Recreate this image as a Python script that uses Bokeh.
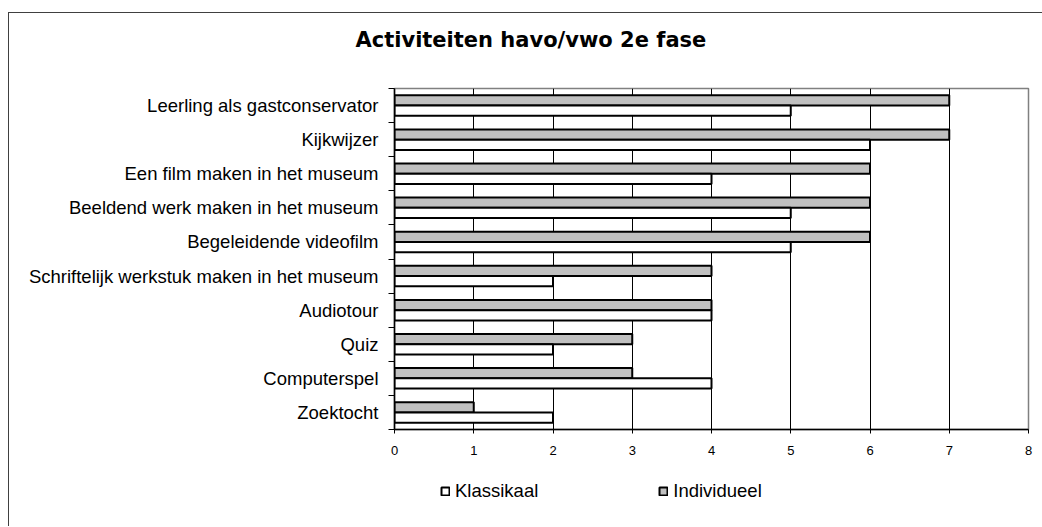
from bokeh.plotting import figure
from bokeh.layouts import column
from bokeh.models import (Range1d, FixedTicker, Legend, LegendItem,
                          ColumnDataSource)
from bokeh.embed import file_html
from bokeh.resources import INLINE

# ---- data (bottom to top) ----
categories = [
    "Zoektocht",
    "Computerspel",
    "Quiz",
    "Audiotour",
    "Schriftelijk werkstuk maken in het museum",
    "Begeleidende videofilm",
    "Beeldend werk maken in het museum",
    "Een film maken in het museum",
    "Kijkwijzer",
    "Leerling als gastconservator",
]
klassikaal = [2, 4, 2, 4, 2, 5, 5, 4, 6, 5]
individueel = [1, 3, 3, 4, 4, 6, 6, 6, 7, 7]
x_ticks = [0, 1, 2, 3, 4, 5, 6, 7, 8]
series_names = ["Klassikaal", "Individueel"]
title_text = "Activiteiten havo/vwo 2e fase"

n = len(categories)
centers = [i + 0.5 for i in range(n)]
bounds = [float(i) for i in range(n + 1)]

src_k = ColumnDataSource(dict(y=[c - 0.15 for c in centers], right=klassikaal))
src_i = ColumnDataSource(dict(y=[c + 0.15 for c in centers], right=individueel))

K_STYLE = dict(fill_color="white", line_color="black", line_width=2)
I_STYLE = dict(fill_color="#c0c0c0", line_color="black", line_width=2)

W = 1033
BORDERS = dict(min_border_left=385, min_border_right=14)


def strip(height):
    f = figure(width=W, height=height, output_backend="svg",
               toolbar_location=None, x_range=Range1d(0, 1),
               y_range=Range1d(0, 1), min_border_top=0, min_border_bottom=0,
               **BORDERS)
    f.axis.visible = False
    f.grid.visible = False
    f.outline_line_color = None
    return f


# ---- title strip ----
pt = strip(62)
pt.title.text = title_text
pt.title.align = "left"
pt.title.offset = -39
pt.title.standoff = 24
pt.title.text_font = "DejaVu Sans"
pt.title.text_font_style = "bold"
pt.title.text_font_size = "21px"
pt.title.text_color = "black"

# ---- main chart ----
p = figure(width=W, height=387, output_backend="svg", toolbar_location=None,
           title=None, x_range=Range1d(0, 8), y_range=Range1d(0, n),
           min_border_top=13, min_border_bottom=33, **BORDERS)

p.outline_line_color = "#808080"
p.outline_line_width = 1.5

p.hbar(y="y", right="right", left=0, height=0.3, source=src_i, **I_STYLE)
p.hbar(y="y", right="right", left=0, height=0.3, source=src_k, **K_STYLE)

# x axis
p.xaxis.ticker = FixedTicker(ticks=x_ticks)
p.xaxis.axis_line_color = "black"
p.xaxis.axis_line_width = 1.5
p.xaxis.major_tick_out = 4
p.xaxis.major_tick_in = 0
p.xaxis.minor_tick_line_color = None
p.xaxis.major_label_text_font = "Liberation Sans"
p.xaxis.major_label_text_font_size = "13px"
p.xaxis.major_label_text_color = "black"
p.xaxis.major_label_standoff = 12

# y axis: labels at centers, tick marks at boundaries
p.yaxis.ticker = FixedTicker(ticks=centers, minor_ticks=bounds)
p.yaxis.major_label_overrides = {c: name for c, name in zip(centers, categories)}
p.yaxis.axis_line_color = "black"
p.yaxis.axis_line_width = 1.5
p.yaxis.major_tick_out = 0
p.yaxis.major_tick_in = 0
p.yaxis.minor_tick_out = 6
p.yaxis.minor_tick_in = 0
p.yaxis.minor_tick_line_color = "black"
p.yaxis.major_label_text_font = "Liberation Sans"
p.yaxis.major_label_text_font_size = "18.5px"
p.yaxis.major_label_text_color = "black"
p.yaxis.major_label_standoff = 10

# grid
p.ygrid.grid_line_color = None
p.xgrid.ticker = FixedTicker(ticks=x_ticks[1:-1])
p.xgrid.grid_line_color = "black"
p.xgrid.grid_line_width = 1
p.xgrid.grid_line_alpha = 1.0

# ---- legend strip below the chart ----
pl = strip(64)
lk = pl.hbar(y=[0.5], right=[1], left=0, height=0.3, visible=False, **K_STYLE)
li = pl.hbar(y=[0.5], right=[1], left=0, height=0.3, visible=False, **I_STYLE)

legend = Legend(items=[LegendItem(label=series_names[0], renderers=[lk]),
                       LegendItem(label=series_names[1], renderers=[li])],
                orientation="horizontal", location=(46, 24),
                border_line_color=None, background_fill_alpha=0,
                inactive_fill_alpha=0,
                padding=0, margin=0, spacing=120,
                glyph_width=10, glyph_height=10, label_height=14,
                label_standoff=5,
                label_text_font="Liberation Sans", label_text_font_size="18.5px",
                label_text_color="black")
pl.add_layout(legend, "center")

layout = column(pt, p, pl, spacing=0,
                styles={"margin-left": "8px", "margin-top": "12px",
                        "border-left": "1px solid #404040",
                        "border-top": "1px solid #404040"})

open("out.html", "w").write(file_html(layout, INLINE))
